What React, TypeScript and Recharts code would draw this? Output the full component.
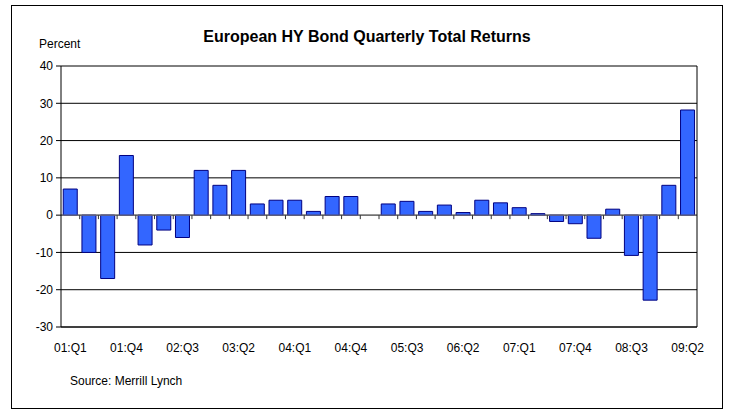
import React from "react";
import { BarChart, Bar, XAxis, YAxis, CartesianGrid, ReferenceLine } from "recharts";

const quarters = [
  "01:Q1", "01:Q2", "01:Q3", "01:Q4",
  "02:Q1", "02:Q2", "02:Q3", "02:Q4",
  "03:Q1", "03:Q2", "03:Q3", "03:Q4",
  "04:Q1", "04:Q2", "04:Q3", "04:Q4",
  "05:Q1", "05:Q2", "05:Q3", "05:Q4",
  "06:Q1", "06:Q2", "06:Q3", "06:Q4",
  "07:Q1", "07:Q2", "07:Q3", "07:Q4",
  "08:Q1", "08:Q2", "08:Q3", "08:Q4",
  "09:Q1", "09:Q2",
];

const totalReturns: (number | null)[] = [
  7, -10, -17, 16,
  -8, -4, -6, 12,
  8, 12, 3, 4,
  4, 1, 5, 5,
  null, 3, 3.7, 1,
  2.7, 0.7, 4, 3.3,
  2, 0.4, -1.7, -2.3,
  -6.2, 1.6, -10.8, -22.8,
  8, 28.2,
];

const yTicks = [-30, -20, -10, 0, 10, 20, 30, 40];

const data = quarters.map((q, i) => ({ quarter: q, value: totalReturns[i] }));

const FONT = "'Liberation Sans', Arial, Helvetica, sans-serif";

const ZeroAxis = (props: any) => {
  const { x1, y1, x2 } = props;
  if (x1 == null || y1 == null || x2 == null) return null;
  const n = quarters.length;
  const step = (x2 - x1) / n;
  return (
    <g>
      <line x1={x1} y1={y1} x2={x2} y2={y1} stroke="#808080" strokeWidth={1} />
      {quarters.map((_, i) =>
        i === 0 ? null : (
          <line
            key={i}
            x1={x1 + i * step}
            x2={x1 + i * step}
            y1={y1}
            y2={y1 + 4}
            stroke="#333"
            strokeWidth={1}
          />
        )
      )}
    </g>
  );
};

export default function App() {
  return (
    <div style={{ position: "absolute", left: 0, top: 0, width: 730, height: 410, background: "#fff" }}>
      <BarChart
        width={730}
        height={410}
        data={data}
        margin={{ top: 66, right: 32, bottom: 53, left: 11 }}
        barCategoryGap="12%"
      >
        <CartesianGrid vertical={false} stroke="#000" strokeWidth={1} />
        <XAxis
          dataKey="quarter"
          interval={2}
          height={30}
          tickLine={false}
          tickSize={6}
          tickMargin={10}
          axisLine={{ stroke: "#000" }}
          tick={{ fill: "#000", fontSize: 12, fontFamily: FONT }}
        />
        <YAxis
          domain={[-30, 40]}
          ticks={yTicks}
          width={50}
          tickSize={5}
          tickMargin={3}
          interval={0}
          axisLine={{ stroke: "#000" }}
          tickLine={{ stroke: "#000" }}
          tick={{ fill: "#000", fontSize: 12, fontFamily: FONT }}
        />
        <YAxis
          yAxisId="right"
          orientation="right"
          domain={[-30, 40]}
          ticks={yTicks}
          width={1}
          tick={false}
          tickLine={false}
          axisLine={{ stroke: "#000" }}
        />
        <Bar
          dataKey="value"
          fill="#3366FF"
          stroke="#000080"
          strokeWidth={1}
          isAnimationActive={false}
        />
        <ReferenceLine y={0} shape={ZeroAxis} ifOverflow="visible" />
      </BarChart>
      <svg
        width={730}
        height={410}
        style={{ position: "absolute", left: 0, top: 0, pointerEvents: "none" }}
      >
        <rect x={11.5} y={5.5} width={711} height={403} fill="none" stroke="#000" strokeWidth={1} />
        <text x={367} y={42} textAnchor="middle" fontFamily={FONT} fontSize={16} fontWeight="bold" fill="#000">
          European HY Bond Quarterly Total Returns
        </text>
        <text x={39} y={48} fontFamily={FONT} fontSize={12} fill="#000">
          Percent
        </text>
        <text x={70} y={385} fontFamily={FONT} fontSize={12} fill="#000">
          Source: Merrill Lynch
        </text>
      </svg>
    </div>
  );
}
